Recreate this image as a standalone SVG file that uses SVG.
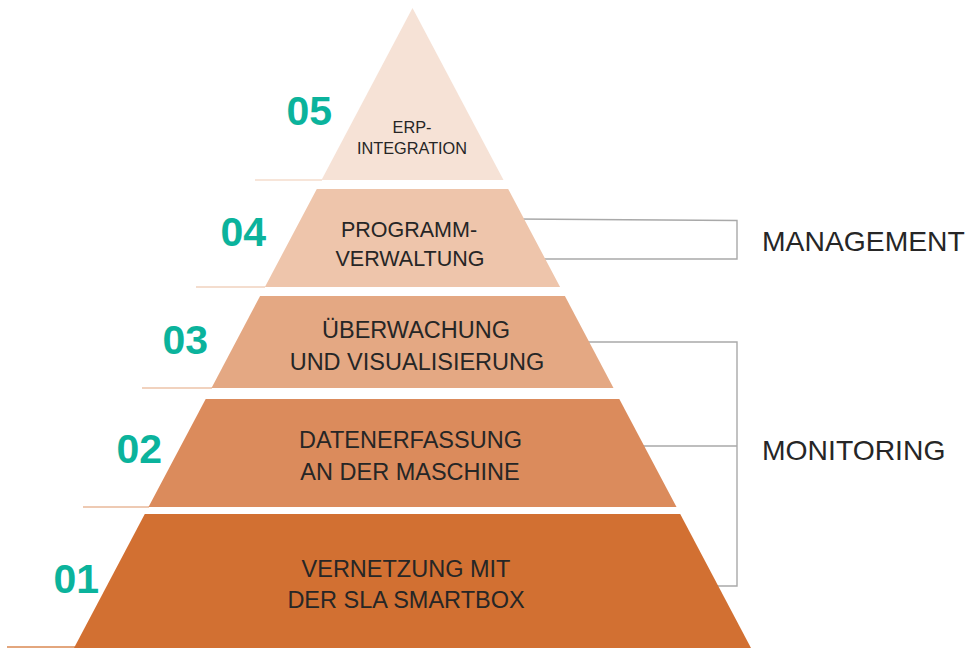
<svg xmlns="http://www.w3.org/2000/svg" width="971" height="648" viewBox="0 0 971 648">
<style>
.lbl{font-family:"Liberation Sans",Arial,sans-serif;fill:#262626;text-anchor:middle}
.big{font-size:23.5px}
.num{font-family:"Liberation Sans",Arial,sans-serif;font-weight:bold;font-size:41px;fill:#0BB39C;text-anchor:end}
.side{font-family:"Liberation Sans",Arial,sans-serif;font-size:28.3px;fill:#262626}
.con{fill:none;stroke:#A9A9A9;stroke-width:1.4}
.ul{stroke-width:1.6}
</style>
<rect width="971" height="648" fill="#ffffff"/>
<g id="connectors">
<polyline class="con" points="515,219 737,220.5 737,259 540,259"/>
<polyline class="con" points="580,342 737,342 737,586 700,586"/>
<line class="con" x1="640" y1="446" x2="737" y2="446"/>
</g>
<g id="tier5">
<line class="ul" x1="255" y1="180" x2="322" y2="180" stroke="#F4DCCD"/>
<polygon points="412.5,8 503.5,180 321.5,180" fill="#F6E2D6"/>
<text class="lbl" font-size="16.3" x="412" y="133">ERP-</text>
<text class="lbl" font-size="16.3" x="412" y="154">INTEGRATION</text>
<text class="num" x="332" y="125">05</text>
</g>
<g id="tier4">
<line class="ul" x1="196" y1="287" x2="265" y2="287" stroke="#F1D2BE"/>
<polygon points="316.8,189 508.2,189 560.1,287 264.9,287" fill="#EEC5AB"/>
<text class="lbl" font-size="21.5" x="409" y="237">PROGRAMM-</text>
<text class="lbl" font-size="21.5" x="410" y="266">VERWALTUNG</text>
<text class="num" x="266" y="246">04</text>
</g>
<g id="tier3">
<line class="ul" x1="142" y1="388" x2="212" y2="388" stroke="#EDC3A8"/>
<polygon points="260.1,296 564.9,296 613.5,388 211.5,388" fill="#E4A883"/>
<text class="lbl big" x="416" y="338">ÜBERWACHUNG</text>
<text class="lbl big" x="417" y="370">UND VISUALISIERUNG</text>
<text class="num" x="208" y="354">03</text>
</g>
<g id="tier2">
<line class="ul" x1="83" y1="507" x2="149" y2="507" stroke="#E9B89A"/>
<polygon points="205.7,399 619.3,399 676.5,507 148.5,507" fill="#DB8B5C"/>
<text class="lbl big" x="410.5" y="448">DATENERFASSUNG</text>
<text class="lbl big" x="410" y="480">AN DER MASCHINE</text>
<text class="num" x="162" y="463">02</text>
</g>
<g id="tier1">
<line class="ul" x1="7" y1="647" x2="75" y2="647" stroke="#DA8852"/>
<polygon points="144.8,514 680.2,514 751,648 74,648" fill="#D27032"/>
<text class="lbl big" x="406" y="577">VERNETZUNG MIT</text>
<text class="lbl big" x="406" y="608">DER SLA SMARTBOX</text>
<text class="num" x="99" y="593">01</text>
</g>
<g id="management">
<text class="side" x="762" y="251">MANAGEMENT</text>
</g>
<g id="monitoring">
<text class="side" x="762" y="460">MONITORING</text>
</g>
</svg>
